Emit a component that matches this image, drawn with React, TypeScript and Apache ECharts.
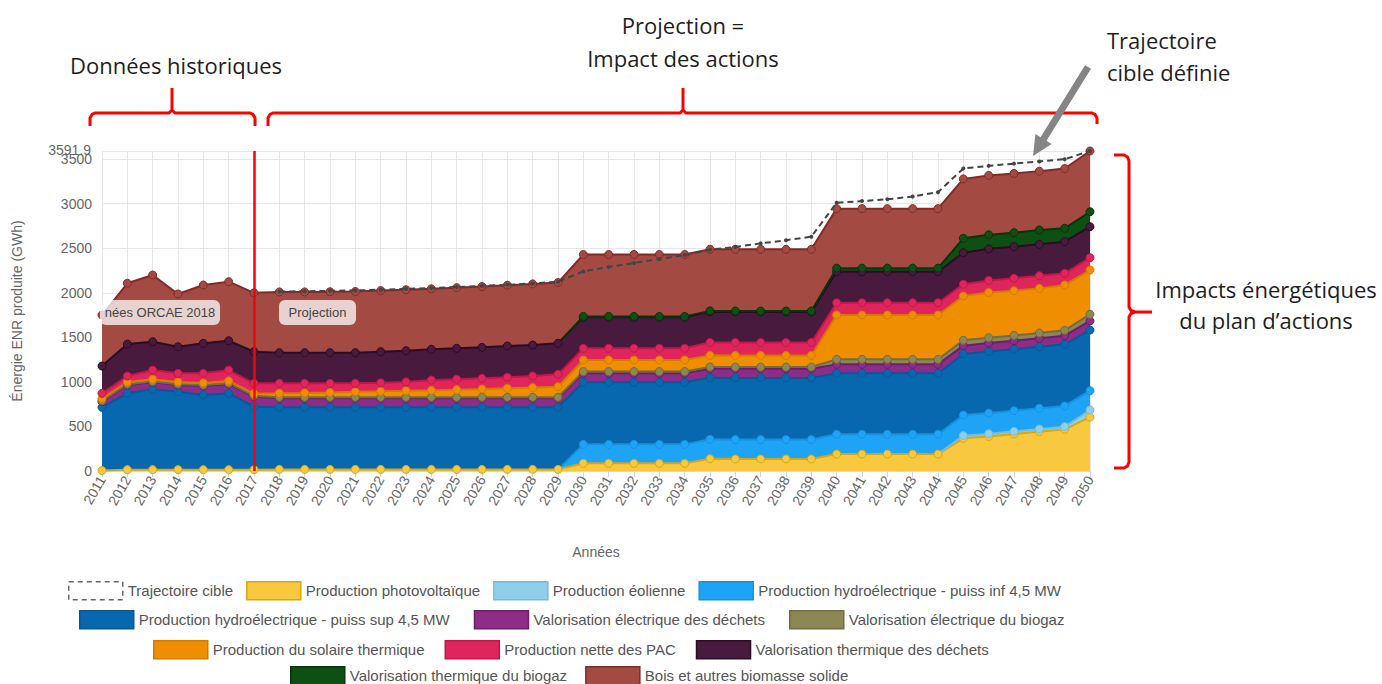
import { useEffect, useRef } from 'react';
import * as echarts from 'echarts';

const years = ['2011', '2012', '2013', '2014', '2015', '2016', '2017', '2018', '2019', '2020',
  '2021', '2022', '2023', '2024', '2025', '2026', '2027', '2028', '2029', '2030',
  '2031', '2032', '2033', '2034', '2035', '2036', '2037', '2038', '2039', '2040',
  '2041', '2042', '2043', '2044', '2045', '2046', '2047', '2048', '2049', '2050'];

const yMax = 3591.9;
const yStep = 500;
const separatorYear = '2017';

const trajectoireCible = [null, null, null, null, null, null, null,
  2015, 2018, 2022, 2027, 2035, 2044, 2054, 2065, 2078, 2090, 2105, 2125,
  2240, 2290, 2335, 2380, 2425, 2485, 2515, 2555, 2590, 2630,
  3010, 3030, 3050, 3080, 3130, 3395, 3425, 3450, 3475, 3500, 3591.9];

const photovoltaique = [5, 15, 15, 15, 15, 15, 15,
  18, 18, 18, 18, 18, 18, 18, 18, 18, 18, 18, 18,
  86, 86, 86, 86, 86, 138, 135, 135, 135, 135,
  190, 190, 190, 190, 190, 367, 388, 415, 441, 468, 605];

const eolienne = [null, null, null, null, null, null, null,
  null, null, null, null, null, null, null, null, null, null, null, null,
  null, null, null, null, null, null, null, null, null, null,
  null, null, null, null, 0, 30, 30, 30, 30, 30, 80];

const hydroInf = [null, null, null, null, null, null, null,
  null, null, null, null, null, null, null, null, null, null, null, 0,
  213, 213, 213, 213, 213, 218, 218, 218, 218, 218,
  222, 222, 222, 222, 222, 231, 232, 232, 233, 232, 216];

const hydroSup = [710, 857, 902, 875, 838, 857, 707,
  697, 697, 697, 697, 697, 697, 697, 697, 697, 697, 697, 697,
  696, 696, 696, 696, 696, 692, 692, 692, 692, 692,
  684, 684, 684, 684, 684, 685, 692, 689, 691, 692, 681];

const elecDechets = [63, 93, 78, 75, 101, 104, 112,
  101, 101, 101, 101, 101, 101, 101, 101, 101, 101, 101, 101,
  101, 101, 101, 101, 101, 100, 102, 102, 102, 102,
  101, 101, 101, 101, 101, 94, 94, 96, 94, 97, 102];

const elecBiogaz = [10, 10, 10, 10, 10, 10, 10,
  12, 12, 12, 12, 12, 12, 12, 12, 12, 12, 12, 12,
  20, 20, 20, 20, 20, 20, 20, 20, 20, 20,
  56, 56, 56, 56, 56, 60, 60, 60, 60, 60, 75];

const solaireThermique = [25, 25, 25, 25, 25, 25, 25,
  44, 48, 53, 62, 66, 72, 77, 85, 92, 100, 108, 118,
  130, 130, 130, 130, 130, 130, 130, 130, 130, 130,
  498, 498, 498, 498, 498, 497, 508, 502, 501, 509, 497];

const pac = [59, 66, 103, 96, 107, 122, 115,
  112, 108, 103, 94, 96, 100, 116, 117, 120, 125, 130, 139,
  131, 131, 131, 131, 131, 145, 145, 145, 145, 145,
  138, 138, 138, 138, 138, 132, 135, 139, 142, 131, 138];

const thermDechets = [306, 359, 318, 299, 337, 329, 355,
  344, 344, 344, 344, 349, 350, 345, 347, 348, 350, 348, 348,
  348, 348, 348, 348, 348, 344, 344, 344, 344, 344,
  348, 348, 348, 348, 348, 354, 355, 355, 352, 355, 348];

const thermBiogaz = [null, null, null, null, null, null, null,
  null, null, null, null, null, null, null, null, null, null, null, 0,
  10, 10, 10, 10, 10, 10, 10, 10, 10, 10,
  40, 40, 40, 40, 40, 162, 158, 157, 161, 150, 168];

const bois = [573, 682, 749, 592, 655, 663, 661,
  682, 682, 684, 687, 686, 685, 679, 681, 682, 682, 686, 682,
  695, 695, 695, 695, 695, 692, 692, 692, 692, 692,
  668, 668, 668, 668, 668, 667, 666, 665, 660, 671, 681.9];

const stackDefs = [
  { name: 'Production photovoltaïque', data: photovoltaique, fill: '#f8c93e', line: '#d9a514' },
  { name: 'Production éolienne', data: eolienne, fill: '#8fcfec', line: '#74bcdc' },
  { name: 'Production hydroélectrique - puiss inf 4,5 MW', data: hydroInf, fill: '#1ea4f7', line: '#1890dc' },
  { name: 'Production hydroélectrique - puiss sup 4,5 MW', data: hydroSup, fill: '#0768b0', line: '#085896' },
  { name: 'Valorisation électrique des déchets', data: elecDechets, fill: '#8d2d88', line: '#6c1e68' },
  { name: 'Valorisation électrique du biogaz', data: elecBiogaz, fill: '#8b8855', line: '#706d3e' },
  { name: 'Production du solaire thermique', data: solaireThermique, fill: '#ef8f00', line: '#d27b00' },
  { name: 'Production nette des PAC', data: pac, fill: '#e0255d', line: '#bf1848' },
  { name: 'Valorisation thermique des déchets', data: thermDechets, fill: '#481a3e', line: '#2a0c23' },
  { name: 'Valorisation thermique du biogaz', data: thermBiogaz, fill: '#0e4f14', line: '#06360a' },
  { name: 'Bois et autres biomasse solide', data: bois, fill: '#a34b43', line: '#84292a' },
];

const legendRows = [
  ['Trajectoire cible', 'Production photovoltaïque', 'Production éolienne', 'Production hydroélectrique - puiss inf 4,5 MW'],
  ['Production hydroélectrique - puiss sup 4,5 MW', 'Valorisation électrique des déchets', 'Valorisation électrique du biogaz'],
  ['Production du solaire thermique', 'Production nette des PAC', 'Valorisation thermique des déchets'],
  ['Valorisation thermique du biogaz', 'Bois et autres biomasse solide'],
];
const legendLeft = [68, 79, 153, 290];
const legendTop = [581, 610, 640, 666];
const legendGap = [13, 24, 20, 18];

const FONT = '"Liberation Sans", Arial, sans-serif';
const ANNOT = '"Open Sans", "Noto Sans", sans-serif';
const RED = '#ff0000';

function arrowPoints(sx: number, sy: number, tx: number, ty: number) {
  const dx = tx - sx, dy = ty - sy;
  const len = Math.hypot(dx, dy);
  const ux = dx / len, uy = dy / len;
  const nx = -uy, ny = ux;
  const sh = 3.5, hh = 9.5, hl = 20;
  const bx = tx - ux * hl, by = ty - uy * hl;
  return [
    [sx + nx * sh, sy + ny * sh], [bx + nx * sh, by + ny * sh], [bx + nx * hh, by + ny * hh],
    [tx, ty], [bx - nx * hh, by - ny * hh], [bx - nx * sh, by - ny * sh], [sx - nx * sh, sy - ny * sh],
  ];
}

function annotText(text: string, x: number, y: number, align: string = 'left') {
  return {
    type: 'text', x, y, silent: true,
    style: { text, fill: '#1e1e1e', font: `22px ${ANNOT}`, textAlign: align, textVerticalAlign: 'middle' },
  };
}

function bandLabel(text: string, x: number, w: number) {
  return [
    { type: 'rect', silent: true, z: 50, shape: { x, y: 300, width: w, height: 25, r: 6 }, style: { fill: 'rgba(255,255,255,0.75)' } },
    { type: 'text', silent: true, z: 51, x: x + w / 2, y: 312.5, style: { text, fill: '#444', font: `13px ${FONT}`, textAlign: 'center', textVerticalAlign: 'middle' } },
  ];
}

function buildOption() {
  const legendItem = (name: string) => {
    if (name === 'Trajectoire cible') {
      return { name, icon: 'rect', itemStyle: { color: '#ffffff', borderColor: '#666', borderWidth: 1.5, borderType: [5, 4] } };
    }
    const d = stackDefs.find((s) => s.name === name)!;
    return { name, icon: 'rect', itemStyle: { color: d.fill, borderColor: d.line, borderWidth: 1.5 } };
  };

  const series: any[] = [
    {
      name: 'Trajectoire cible', type: 'line', data: trajectoireCible, z: 5,
      symbol: 'circle', symbolSize: 4, showAllSymbol: true,
      lineStyle: { color: '#444', width: 2, type: [6, 4] },
      itemStyle: { color: '#444' },
      emphasis: { disabled: true },
      markLine: {
        silent: true, symbol: ['none', 'none'], label: { show: false },
        lineStyle: { color: RED, width: 2.5, type: 'solid' },
        data: [{ xAxis: separatorYear }],
      },
    },
    ...stackDefs.map((d) => ({
      name: d.name, type: 'line', stack: 'total', z: 2,
      data: d.data.map((v) => (v === 0 ? { value: 0, symbolSize: 0 } : v)),
      areaStyle: { color: d.fill, opacity: 1 },
      lineStyle: { color: d.line, width: 2 },
      itemStyle: { color: d.fill, borderColor: d.line, borderWidth: 1 },
      symbol: 'circle', symbolSize: 8, showAllSymbol: true,
      emphasis: { disabled: true },
    })),
  ];

  const graphic: any[] = [
    annotText('Données historiques', 70, 65),
    annotText('Projection =', 683, 25, 'center'),
    annotText('Impact des actions', 683, 58, 'center'),
    annotText('Trajectoire', 1107, 40),
    annotText('cible définie', 1107, 72),
    annotText('Impacts énergétiques', 1266, 289, 'center'),
    annotText('du plan d’actions', 1266, 320, 'center'),
    {
      type: 'text', x: 91, y: 150, silent: true,
      style: { text: String(yMax), fill: '#666', font: `14px ${FONT}`, textAlign: 'right', textVerticalAlign: 'middle' },
    },
    {
      type: 'polyline', silent: true,
      shape: { points: [[90, 126], [90, 118], [92, 114.5], [95, 113], [169, 113], [172, 110], [172, 88], [172, 110], [175, 113], [250, 113], [253, 114.5], [255, 118], [255, 126]] },
      style: { stroke: RED, lineWidth: 3, fill: null },
    },
    {
      type: 'polyline', silent: true,
      shape: { points: [[268, 126], [268, 118], [270, 114.5], [273, 113], [680, 113], [683, 110], [683, 88], [683, 110], [686, 113], [1092, 113], [1095, 114.5], [1097, 118], [1097, 124]] },
      style: { stroke: RED, lineWidth: 3, fill: null },
    },
    {
      type: 'polyline', silent: true,
      shape: { points: [[1114, 155], [1124, 155], [1127.5, 157], [1129, 161], [1129, 307], [1131, 310.5], [1135, 312], [1152, 312], [1135, 312], [1131, 313.5], [1129, 317], [1129, 462], [1127.5, 466], [1124, 468], [1114, 468]] },
      style: { stroke: RED, lineWidth: 3, fill: null },
    },
    {
      type: 'polygon', silent: true, z: 60,
      shape: { points: arrowPoints(1088, 67, 1033, 156) },
      style: { fill: '#858585' },
    },
    ...bandLabel('nées ORCAE 2018', 100, 120),
    ...bandLabel('Projection', 279, 77),
  ];

  return {
    animation: false,
    backgroundColor: '#ffffff',
    textStyle: { fontFamily: FONT },
    grid: { left: 102, right: 292, top: 151, bottom: 213, containLabel: false, outerBoundsMode: 'none' },
    xAxis: {
      type: 'category', data: years, boundaryGap: false,
      name: 'Années', nameLocation: 'middle', nameGap: 74,
      nameTextStyle: { color: '#666', fontSize: 14, fontFamily: FONT },
      axisLine: { lineStyle: { color: '#ccd6eb' } },
      axisTick: { show: true, length: 6, lineStyle: { color: '#ccd6eb' }, interval: 0 },
      axisLabel: { interval: 0, rotate: 60, color: '#666', fontSize: 14, fontFamily: FONT, margin: 6 },
      splitLine: { show: true, interval: 0, lineStyle: { color: '#e6e6e6', width: 1 } },
    },
    yAxis: {
      type: 'value', min: 0, max: yMax, interval: yStep,
      name: 'Énergie ENR produite (GWh)', nameLocation: 'middle', nameGap: 78,
      nameTextStyle: { color: '#666', fontSize: 14, fontFamily: FONT },
      axisLine: { show: false }, axisTick: { show: false },
      axisLabel: {
        color: '#666', fontSize: 14, fontFamily: FONT, margin: 10,
        showMaxLabel: false, showMinLabel: true,
        formatter: (v: number) => `${Math.round(v * 10) / 10}`,
      },
      splitLine: { show: true, lineStyle: { color: '#e6e6e6', width: 1 } },
    },
    legend: legendRows.map((row, i) => ({
      data: row.map(legendItem),
      left: legendLeft[i], top: legendTop[i], orient: 'horizontal',
      itemWidth: 54, itemHeight: 18, itemGap: legendGap[i], padding: 0,
      selectedMode: false,
      textStyle: { color: '#555', fontSize: 15, fontFamily: FONT, lineHeight: 18 },
    })),
    series,
    graphic,
  };
}

export default function App() {
  const ref = useRef<HTMLDivElement>(null);
  useEffect(() => {
    if (!ref.current) return;
    const chart = echarts.init(ref.current, null, { renderer: 'svg' });
    chart.setOption(buildOption() as any);
    return () => chart.dispose();
  }, []);
  return (
    <div
      ref={ref}
      style={{ position: 'fixed', left: 0, top: 0, width: 1382, height: 684, background: '#fff' }}
    />
  );
}
